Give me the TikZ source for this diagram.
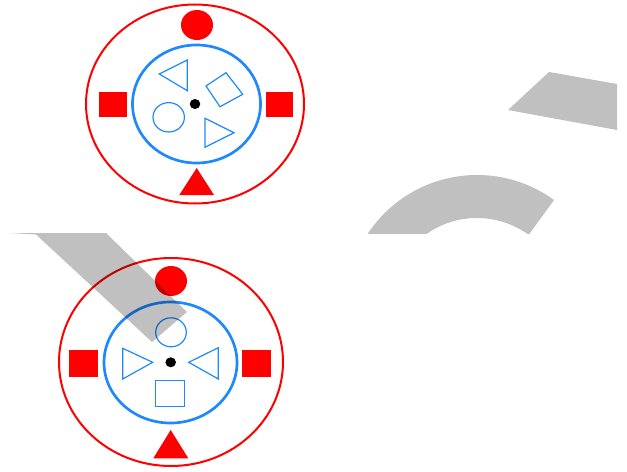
\documentclass[tikz,border=0pt]{standalone}
\begin{document}
\begin{tikzpicture}[x=0.75pt,y=-0.75pt,
  redring/.style={draw=red,line width=1.5pt},
  bluering/.style={draw=myblue,line width=2pt},
  blueshape/.style={draw=myblue,line width=0.9pt,line join=miter},
  redfill/.style={fill=red},
  grayband/.style={fill=mygray}]
\definecolor{myblue}{RGB}{30,136,255}
\definecolor{mygray}{RGB}{192,192,192}
\useasboundingbox (0,0) rectangle (627,471);
% ---------- top panel ----------
\coordinate (tc) at (195,104);
\draw[redring] (tc) ellipse [x radius=109, y radius=99.5];
\draw[bluering] (196.5,104) ellipse [x radius=64, y radius=59];
\fill[redfill] (197,25) ellipse [x radius=16, y radius=15];
\fill[redfill] (98.7,91.7) rectangle (126.7,117.3);
\fill[redfill] (265.7,91.5) rectangle (293.3,117);
\fill[redfill] (196.7,168) -- (214,195) -- (179.3,195) -- cycle;
\fill[black] (tc) ellipse [x radius=5.3, y radius=5];
\draw[blueshape] (159.3,74) -- (187.3,60) -- (187.3,90.7) -- cycle;
\draw[blueshape] (206,86) -- (226,72.7) -- (242.7,94.3) -- (220,106.7) -- cycle;
\draw[blueshape] (168.7,117.3) ellipse [x radius=15.7, y radius=14.7];
\draw[blueshape] (205,118.3) -- (234,132.7) -- (205,147.3) -- cycle;
% ---------- bottom panel ----------
\coordinate (bc) at (170.7,362.3);
\draw[redring] (171,362) ellipse [x radius=112, y radius=104];
\draw[bluering] (170.5,362.5) ellipse [x radius=66.5, y radius=60.5];
\fill[redfill] (171,281) ellipse [x radius=16, y radius=15];
\fill[redfill] (69.3,350) rectangle (98.3,376.7);
\fill[redfill] (242.3,350) rectangle (271,376.7);
\fill[redfill] (170.7,430) -- (188.3,458.3) -- (153.3,458.3) -- cycle;
\fill[black] (bc) ellipse [x radius=5.3, y radius=5];
\draw[blueshape] (171,332.3) ellipse [x radius=15.3, y radius=14.5];
\draw[blueshape] (122.7,348.3) -- (152.7,362.3) -- (122.7,379) -- cycle;
\draw[blueshape] (218.3,347.7) -- (188.7,362.3) -- (218.3,379) -- cycle;
\draw[blueshape] (155.7,380.7) rectangle (184.3,406.7);
% ---------- gray arrow pieces ----------
\begin{scope}[blend mode=multiply]
  \fill[grayband] (508,110) -- (549,72) -- (617,84) -- (617,130) -- cycle;
  \begin{scope}
    \clip (0,0) rectangle (627,233);
    \coordinate (ac) at (477,306);
    \fill[grayband] ([shift={(-54:131)}]ac) arc[start angle=-54, end angle=-175, radius=131]
       -- ([shift={(-175:88)}]ac) arc[start angle=-175, end angle=-54, radius=88] -- cycle;
  \end{scope}
  \fill[grayband] (9,233) -- (36,234.5) -- (152,342) -- (187,312) -- (106,233) -- cycle;
\end{scope}
\end{tikzpicture}
\end{document}
